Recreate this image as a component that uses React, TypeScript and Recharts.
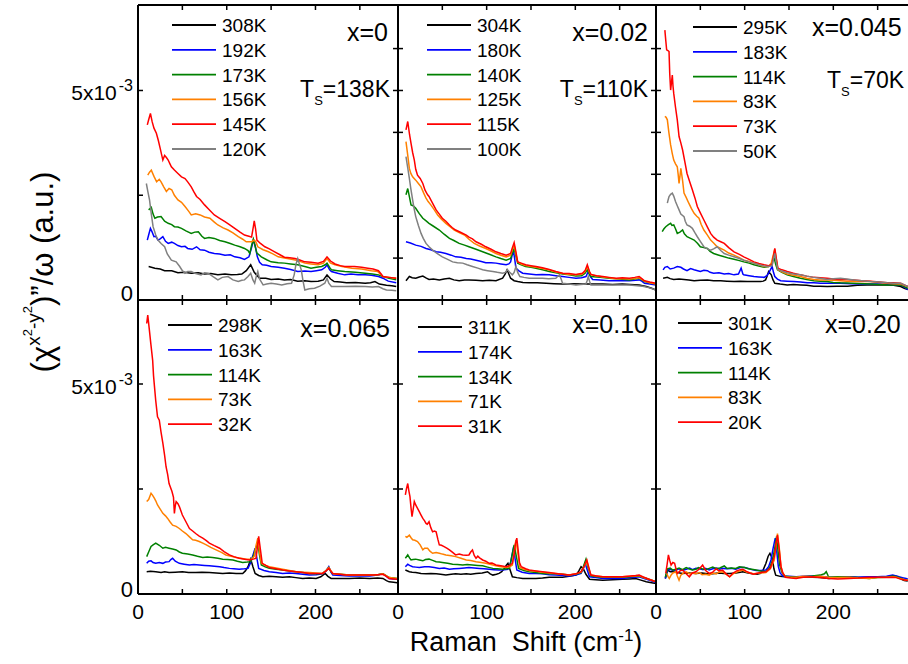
import React from 'react';
import { LineChart, Line, XAxis, YAxis } from 'recharts';

type Pt = [number, number];

// values in units of 1e-3, x in cm^-1
// x = 0
const p1_308K: Pt[] = [[12,0.80],[19,0.76],[25,0.74],[30,0.70],[38,0.70],[45,0.65],[52,0.66],[60,0.64],[68,0.65],[75,0.62],[82,0.63],[90,0.60],[98,0.62],[105,0.60],[112,0.61],[117,0.62],[122,0.70],[127,0.84],[131,0.66],[137,0.52],[144,0.52],[150,0.49],[158,0.50],[165,0.48],[172,0.49],[180,0.45],[188,0.46],[195,0.44],[203,0.45],[209,0.48],[213,0.60],[217,0.50],[221,0.44],[228,0.43],[235,0.41],[245,0.42],[256,0.40],[262,0.41],[267,0.44],[272,0.38],[280,0.35],[286,0.34],[291,0.32]];
const p1_192K: Pt[] = [[10.5,1.43],[12,1.55],[14,1.71],[16,1.62],[18,1.51],[20,1.52],[22.5,1.43],[25,1.46],[28,1.51],[31,1.40],[34,1.35],[38,1.38],[41,1.35],[45,1.30],[49,1.27],[53,1.28],[56,1.23],[61,1.21],[66,1.27],[70,1.20],[75,1.19],[80,1.14],[86,1.11],[92,1.10],[98,1.07],[104,1.08],[109,1.03],[115,1.01],[120,0.97],[125,1.03],[128,1.25],[130,1.43],[132,1.30],[134.5,1.03],[137,0.90],[140,0.84],[145,0.83],[150,0.80],[158,0.78],[165,0.76],[172,0.73],[180,0.68],[188,0.69],[195,0.68],[201,0.70],[207,0.72],[211,0.78],[213,0.84],[216,0.72],[218,0.68],[225,0.64],[233,0.60],[240,0.62],[248,0.60],[256,0.60],[263,0.59],[271,0.56],[276,0.52],[282,0.45],[291,0.41]];
const p1_173K: Pt[] = [[12,2.15],[15,2.21],[17,2.05],[19,1.95],[22,1.98],[26,1.99],[30,1.88],[34,1.83],[38,1.80],[41,1.75],[45,1.74],[49,1.71],[54,1.65],[60,1.59],[64,1.62],[68,1.63],[72,1.52],[75,1.47],[80,1.49],[86,1.47],[92,1.42],[98,1.39],[104,1.35],[109,1.31],[115,1.27],[120,1.23],[124,1.18],[126,1.11],[128,1.30],[130,1.45],[132,1.28],[134,1.12],[139,1.03],[145,0.96],[150,0.91],[158,0.89],[165,0.88],[172,0.86],[180,0.84],[188,0.80],[195,0.76],[201,0.78],[207,0.80],[211,0.84],[213,0.88],[216,0.78],[218,0.72],[225,0.70],[233,0.68],[245,0.66],[256,0.64],[264,0.62],[271,0.60],[276,0.56],[283,0.52],[291,0.48]];
const p1_156K: Pt[] = [[11,2.98],[13,3.05],[15,3.10],[18,2.95],[21,2.82],[24,2.88],[26,2.82],[29,2.70],[32,2.59],[35,2.66],[38,2.63],[41,2.50],[45,2.39],[49,2.33],[53,2.23],[57,2.12],[60,2.03],[65,2.06],[70,2.03],[75,1.98],[81,1.95],[86,1.86],[90,1.79],[96,1.72],[101.5,1.67],[107,1.60],[113,1.51],[118,1.45],[122,1.39],[128,1.39],[131,1.43],[133,1.38],[135,1.27],[141,1.20],[147,1.15],[152,1.10],[158,1.03],[165,1.00],[173,0.97],[180,0.94],[188,0.88],[195,0.86],[203,0.84],[209,0.88],[213,0.99],[217,0.88],[222,0.84],[230,0.80],[241,0.76],[252,0.74],[263,0.70],[270,0.68],[276,0.56],[283,0.54],[291,0.52]];
const p1_145K: Pt[] = [[10.5,4.18],[12,4.30],[14,4.45],[16,4.25],[18,4.10],[20.7,3.98],[23,3.80],[25,3.62],[28,3.34],[30,3.45],[32,3.40],[34,3.34],[36,3.25],[37.6,3.18],[41,3.10],[45,3.02],[49,2.94],[53,2.90],[56,2.82],[60,2.70],[63,2.58],[66,2.47],[70,2.40],[75,2.27],[80,2.16],[86,2.03],[92,1.95],[98,1.87],[103,1.80],[109,1.71],[115,1.62],[120,1.55],[125,1.52],[128,1.50],[130,1.75],[131,1.89],[132.5,1.70],[134,1.43],[138,1.35],[143,1.27],[148,1.22],[154,1.15],[160,1.08],[165,1.02],[171,1.01],[177,0.99],[183,0.95],[188,0.91],[195,0.90],[203,0.88],[209,0.92],[213,1.03],[217,0.93],[222,0.86],[228,0.82],[233,0.80],[244,0.80],[252,0.78],[259,0.76],[265,0.74],[271,0.70],[274,0.62],[276,0.56],[283,0.54],[291,0.52]];
const p1_120K: Pt[] = [[9.4,2.78],[11,2.60],[13,2.39],[15,2.05],[17,1.75],[20,1.55],[22.5,1.43],[26,1.35],[30,1.27],[33,1.10],[37.6,0.95],[43,0.91],[47,0.80],[50,0.70],[53,0.64],[56,0.68],[60,0.68],[65,0.63],[71,0.60],[75,0.65],[79,0.64],[85,0.55],[90,0.48],[95,0.54],[101.5,0.56],[107,0.48],[113,0.44],[117,0.47],[120,0.48],[124,0.56],[127,0.64],[129.5,0.48],[131.5,0.40],[133.5,0.58],[135,0.68],[137,0.50],[141,0.36],[145,0.38],[150,0.40],[156,0.38],[162,0.36],[168,0.39],[173,0.40],[176,0.60],[178,0.85],[180,0.99],[182,0.85],[184,0.72],[186,0.45],[188,0.24],[193,0.27],[199,0.28],[205,0.33],[210.5,0.40],[213,0.52],[215,0.40],[218,0.32],[225,0.32],[233,0.32],[245,0.33],[256,0.32],[264,0.31],[271,0.32],[276,0.27],[280,0.24],[286,0.23],[291,0.22]];

// x = 0.02
const p2_304K: Pt[] = [[9,0.46],[12.8,0.56],[16,0.53],[20,0.52],[24,0.55],[28,0.57],[32,0.52],[35,0.49],[40,0.50],[46.6,0.48],[52,0.50],[58,0.52],[63,0.48],[69,0.46],[75,0.48],[80,0.48],[88,0.47],[95.5,0.46],[103,0.47],[110.5,0.46],[118,0.52],[121,0.62],[123,0.72],[125,0.62],[127,0.52],[131,0.46],[135,0.44],[141,0.42],[148,0.41],[157,0.41],[167,0.40],[176,0.39],[185.6,0.38],[197,0.39],[208,0.38],[220,0.38],[231,0.38],[242,0.37],[253,0.38],[262,0.37],[272,0.36],[280,0.32],[286,0.28],[291,0.24]];
const p2_180K: Pt[] = [[9,1.39],[14,1.36],[20,1.31],[26,1.28],[31.6,1.23],[37,1.20],[43,1.15],[48,1.14],[54,1.11],[60,1.07],[65,1.03],[71,1.02],[77,0.99],[82,0.98],[88,0.95],[94,0.92],[99,0.89],[105,0.89],[110.5,0.88],[116,0.86],[122,0.84],[125,0.86],[127,0.91],[128.5,1.05],[130,1.19],[131.5,1.00],[133,0.76],[136,0.70],[140.6,0.64],[148,0.62],[155.6,0.60],[163,0.61],[170.6,0.60],[178,0.58],[185.6,0.56],[193,0.54],[200.7,0.52],[207,0.53],[212,0.56],[214.6,0.68],[217,0.56],[219.5,0.49],[228,0.48],[238,0.46],[250,0.46],[261,0.46],[268,0.47],[272,0.48],[275,0.45],[278,0.40],[284,0.38],[291,0.36]];
const p2_140K: Pt[] = [[9,2.51],[11,2.66],[13,2.45],[14.7,2.27],[17,2.25],[20,2.19],[24,2.06],[28,1.95],[31,1.90],[35,1.83],[40,1.76],[46.6,1.67],[52,1.57],[58,1.47],[63,1.42],[69,1.35],[75,1.31],[80,1.27],[88,1.21],[95.5,1.15],[103,1.09],[110.5,1.03],[116,0.99],[122,0.95],[127,0.99],[129,1.12],[131,1.23],[133,1.05],[135,0.88],[139,0.84],[144,0.80],[150,0.78],[155.6,0.76],[163,0.72],[170.6,0.68],[178,0.65],[185.6,0.62],[193,0.60],[200.7,0.57],[207,0.58],[211,0.64],[213.5,0.72],[216,0.62],[217.6,0.56],[228,0.54],[238,0.52],[250,0.50],[261,0.48],[267,0.50],[272,0.52],[275,0.48],[278,0.44],[284,0.41],[291,0.38]];
const p2_125K: Pt[] = [[9,3.78],[11,3.45],[12.8,3.14],[14.5,3.02],[16.5,2.94],[20,2.86],[23,2.78],[26,2.70],[29,2.55],[31.6,2.43],[34,2.35],[37,2.27],[41,2.15],[44.7,2.03],[49,1.93],[54,1.83],[58,1.76],[63.5,1.67],[69,1.61],[75,1.55],[80,1.45],[86,1.35],[92,1.29],[99,1.23],[105,1.17],[110.5,1.11],[116,1.07],[122,1.03],[127,1.07],[129,1.20],[131,1.31],[133,1.10],[135,0.91],[139,0.86],[144,0.82],[150,0.80],[156,0.78],[163,0.75],[170,0.72],[178,0.67],[186,0.63],[193,0.61],[201,0.60],[208,0.62],[211,0.68],[213.5,0.80],[216,0.66],[218,0.60],[225,0.57],[231,0.55],[238,0.53],[246,0.51],[253,0.51],[261,0.50],[268,0.51],[272,0.53],[275,0.49],[278,0.45],[284,0.41],[291,0.38]];
const p2_115K: Pt[] = [[9,4.06],[11,4.26],[13,3.95],[14.7,3.74],[16.5,3.52],[18.4,3.34],[20,3.12],[22,2.98],[25,2.90],[28,2.78],[30.5,2.62],[33.4,2.51],[35,2.47],[37,2.39],[40,2.27],[43,2.15],[46.6,2.05],[50,1.95],[54,1.88],[58,1.79],[61,1.73],[65,1.67],[71,1.61],[77,1.55],[80,1.50],[84,1.46],[88,1.39],[94,1.33],[99,1.27],[105,1.21],[110.5,1.15],[116,1.11],[122,1.07],[127,1.11],[129,1.25],[131,1.37],[133,1.15],[135,0.91],[139,0.88],[144,0.84],[150,0.82],[155.6,0.80],[163,0.77],[170.6,0.73],[178,0.68],[185.6,0.64],[193,0.63],[200.7,0.61],[208,0.64],[211,0.70],[213.5,0.84],[216,0.68],[217.6,0.61],[224,0.58],[231,0.56],[238,0.54],[246,0.52],[253,0.53],[261,0.52],[267,0.54],[272,0.56],[275,0.51],[278,0.46],[284,0.43],[291,0.40]];
const p2_100K: Pt[] = [[9,3.42],[11,3.15],[12.8,2.90],[14.5,2.65],[16.5,2.39],[18,2.20],[20,1.99],[23,1.78],[26,1.59],[28.5,1.47],[31.6,1.35],[35,1.27],[39,1.19],[44,1.11],[50,1.03],[56,0.97],[61.6,0.91],[67,0.89],[73,0.88],[78,0.84],[84,0.80],[90,0.76],[95.5,0.72],[101,0.70],[107,0.68],[112,0.66],[118,0.64],[121,0.66],[123.6,0.72],[126,0.66],[129,0.60],[131,0.66],[133,0.80],[135,0.66],[137.5,0.56],[142,0.54],[148,0.52],[155,0.52],[163,0.52],[170,0.51],[178,0.52],[180,0.56],[182,0.60],[184,0.50],[185.6,0.40],[193,0.38],[200.7,0.36],[206,0.37],[212,0.38],[213.5,0.47],[214.6,0.56],[216,0.45],[217.6,0.36],[228,0.36],[238,0.36],[250,0.36],[261,0.36],[270,0.34],[276,0.33],[284,0.29],[291,0.24]];

// x = 0.045
const p3_295K: Pt[] = [[8,0.52],[12.8,0.54],[16,0.51],[20,0.49],[26,0.50],[31.6,0.49],[37,0.48],[43,0.46],[50,0.47],[58,0.48],[65,0.46],[73,0.46],[80,0.45],[88,0.44],[95,0.45],[103,0.44],[110,0.44],[118,0.44],[121,0.45],[123.6,0.48],[125.5,0.58],[127,0.68],[130,0.60],[132,0.48],[134,0.40],[140,0.38],[148,0.36],[155,0.37],[163,0.36],[170,0.35],[178,0.33],[185,0.33],[193,0.32],[204,0.33],[216,0.33],[227,0.35],[238,0.36],[250,0.36],[261,0.36],[268,0.35],[276,0.32],[280,0.28],[284,0.25]];
const p3_183K: Pt[] = [[8,0.72],[10,0.78],[12.8,0.80],[16,0.74],[20,0.76],[24,0.80],[28,0.78],[31,0.74],[35,0.70],[39,0.75],[43,0.72],[47,0.70],[50,0.68],[54,0.71],[58,0.70],[61,0.66],[65,0.64],[71,0.65],[77,0.62],[82,0.63],[88,0.60],[93,0.62],[96,0.76],[98,0.62],[99,0.60],[105,0.58],[110.5,0.56],[116,0.55],[122,0.54],[125,0.58],[127,0.64],[129,0.72],[131,0.80],[132.5,0.66],[134,0.56],[137,0.50],[140.6,0.46],[148,0.45],[155.6,0.44],[163,0.43],[170.6,0.41],[178,0.41],[185.6,0.40],[197,0.40],[208,0.40],[220,0.39],[231,0.38],[242,0.38],[253,0.38],[265,0.37],[276,0.36],[280,0.31],[284,0.25]];
const p3_114K: Pt[] = [[7,1.63],[9,1.70],[11,1.75],[14,1.80],[16.5,1.83],[18,1.78],[20,1.79],[22,1.70],[24,1.59],[27,1.62],[30,1.67],[32,1.58],[35,1.51],[39,1.47],[43,1.43],[47,1.35],[50,1.27],[54,1.25],[58,1.23],[61,1.16],[65,1.11],[71,1.07],[77,1.03],[82,1.00],[88,0.97],[94,0.94],[99,0.91],[105,0.88],[110.5,0.84],[116,0.81],[122,0.78],[127,0.80],[130,0.84],[131.5,0.95],[133,1.03],[135,0.85],[137,0.72],[142,0.66],[148,0.60],[155,0.56],[163,0.52],[170,0.49],[178,0.46],[185,0.45],[193,0.44],[200,0.42],[208,0.41],[223,0.40],[242,0.38],[261,0.36],[276,0.36],[280,0.32],[284,0.28]];
const p3_83K: Pt[] = [[10,4.38],[11.4,4.36],[12.8,4.30],[14.5,4.00],[16.5,3.70],[18.3,3.50],[20,3.34],[22,3.25],[24,3.18],[25,3.00],[26,2.78],[27,2.95],[28,3.14],[30,2.85],[31.6,2.55],[34,2.45],[37,2.31],[40,2.18],[43,2.07],[46,2.00],[48.5,1.95],[51,1.80],[54,1.67],[58,1.55],[61.6,1.43],[65,1.36],[69,1.27],[73,1.23],[77,1.19],[82,1.12],[88,1.07],[94,1.01],[99,0.95],[105,0.92],[110.5,0.88],[116,0.84],[122,0.80],[127,0.80],[130,0.88],[132,1.05],[134,1.21],[135.5,1.00],[137.5,0.72],[142,0.67],[148,0.62],[155,0.59],[163,0.56],[170,0.52],[178,0.49],[185,0.48],[193,0.48],[200,0.47],[208,0.46],[215,0.45],[223,0.44],[232,0.44],[242,0.44],[252,0.42],[261,0.40],[268,0.39],[276,0.38],[280,0.35],[284,0.32]];
const p3_73K: Pt[] = [[10,6.44],[11,6.20],[12,5.97],[13.5,5.95],[14.7,5.93],[15.5,5.40],[16.5,5.01],[17.5,5.20],[18.4,5.37],[19.2,5.10],[20,4.93],[22,4.60],[24,4.30],[25,4.10],[26,3.90],[28,3.75],[30,3.58],[32.5,3.30],[35,3.02],[38,2.82],[41,2.63],[44,2.43],[46.6,2.23],[50,2.08],[54,1.91],[58,1.74],[61.6,1.59],[65,1.50],[69,1.43],[73,1.39],[77,1.35],[82,1.25],[88,1.15],[94,1.09],[99,1.03],[105,0.97],[110.5,0.91],[116,0.87],[122,0.84],[127,0.82],[131,0.84],[132.5,1.05],[134,1.23],[135.5,1.02],[137.5,0.76],[142,0.72],[148,0.68],[155,0.64],[163,0.60],[170,0.57],[178,0.54],[185,0.53],[193,0.52],[200,0.50],[208,0.49],[215,0.49],[223,0.48],[232,0.46],[242,0.45],[252,0.43],[261,0.41],[268,0.41],[276,0.40],[280,0.36],[284,0.32]];
const p3_50K: Pt[] = [[12.8,2.31],[13.8,2.40],[14.7,2.47],[16.5,2.52],[18.4,2.55],[20,2.48],[22,2.35],[24,2.25],[26,2.15],[28,2.05],[31.6,1.99],[33,1.88],[35,1.79],[38,1.76],[41,1.71],[44,1.60],[46.6,1.51],[50,1.40],[54,1.27],[58,1.22],[61.6,1.19],[65,1.22],[69,1.27],[73,1.18],[77,1.11],[82,1.07],[88,1.03],[94,0.99],[99,0.95],[105,0.91],[110.5,0.88],[116,0.84],[122,0.81],[127,0.80],[131,0.82],[132.5,0.98],[134,1.11],[135.5,0.92],[137.5,0.73],[142,0.69],[148,0.65],[155,0.62],[163,0.60],[170,0.57],[178,0.54],[185,0.52],[193,0.49],[200,0.51],[208,0.52],[215,0.50],[223,0.48],[232,0.46],[242,0.44],[252,0.43],[261,0.41],[268,0.40],[276,0.40],[280,0.36],[284,0.32]];

// x = 0.065
const p4_298K: Pt[] = [[9.8,0.53],[14,0.54],[20,0.53],[26,0.51],[30,0.53],[35,0.51],[42,0.52],[50,0.53],[57,0.51],[65,0.51],[72,0.52],[80.4,0.51],[88,0.50],[95.5,0.49],[103,0.50],[110.5,0.49],[118,0.49],[121,0.55],[124,0.65],[127,0.83],[129.5,0.65],[132,0.49],[136,0.44],[140.6,0.41],[148,0.42],[155.6,0.41],[163,0.40],[170.6,0.41],[178,0.39],[185.6,0.37],[193,0.38],[200.7,0.37],[206,0.41],[211,0.49],[214,0.42],[217.6,0.37],[228,0.37],[238,0.37],[250,0.38],[261,0.37],[270,0.38],[276,0.37],[280,0.32],[283,0.29],[288,0.28],[292,0.27]];
const p4_163K: Pt[] = [[9.8,0.73],[12,0.78],[14.7,0.79],[17,0.75],[20,0.73],[24,0.75],[28,0.73],[31,0.76],[35,0.77],[37,0.82],[39,0.85],[42,0.78],[46.6,0.73],[52,0.71],[58,0.69],[63,0.70],[69,0.69],[75,0.68],[80.4,0.67],[86,0.66],[92,0.65],[97,0.63],[103,0.61],[108,0.60],[114,0.59],[120,0.60],[124,0.61],[127,0.75],[129,0.89],[132,1.09],[134,0.85],[136,0.61],[142,0.56],[148,0.53],[155.6,0.51],[163,0.49],[170.6,0.50],[178,0.49],[185.6,0.47],[193,0.45],[200.7,0.46],[208,0.48],[212,0.55],[215,0.65],[217.5,0.52],[219.5,0.45],[228,0.44],[238,0.43],[250,0.43],[261,0.43],[270,0.45],[276,0.48],[280,0.42],[283,0.37],[288,0.36],[292,0.35]];
const p4_114K: Pt[] = [[9.8,0.89],[12,1.00],[14.7,1.13],[17,1.17],[20,1.21],[24,1.16],[28,1.09],[31,1.11],[35,1.09],[39,1.07],[43,1.05],[46.6,1.00],[50,0.97],[56,0.95],[61.6,0.93],[67,0.90],[73,0.87],[78,0.88],[84,0.87],[90,0.85],[95.5,0.83],[101,0.82],[107,0.81],[112,0.78],[118,0.75],[123,0.76],[127,0.77],[130,0.90],[132,1.05],[135,1.21],[137,0.92],[139,0.69],[144,0.64],[148,0.61],[155.6,0.59],[163,0.57],[170.6,0.55],[178,0.53],[185.6,0.51],[193,0.49],[200.7,0.48],[208,0.49],[212,0.56],[215,0.63],[217.5,0.53],[219.5,0.49],[228,0.47],[238,0.45],[250,0.45],[261,0.45],[270,0.46],[276,0.48],[280,0.43],[283,0.39],[288,0.38],[292,0.37]];
const p4_73K: Pt[] = [[9.8,2.20],[12,2.25],[14.7,2.40],[16.5,2.35],[18.4,2.28],[20,2.22],[22,2.12],[25,2.02],[28,1.92],[31,1.86],[33.4,1.80],[36,1.72],[39,1.64],[43,1.61],[46.6,1.56],[50,1.50],[54,1.44],[58,1.36],[61.6,1.29],[65,1.28],[69,1.25],[73,1.21],[77,1.17],[82,1.11],[88,1.05],[94,0.99],[99,0.93],[105,0.90],[110.5,0.87],[116,0.85],[122,0.83],[128,0.83],[131,0.90],[133,1.15],[135,1.33],[137,1.00],[139,0.73],[144,0.68],[148,0.65],[155.6,0.62],[163,0.59],[170.6,0.56],[178,0.53],[185.6,0.52],[193,0.51],[200.7,0.50],[208,0.49],[212,0.56],[215,0.63],[217.5,0.55],[219.5,0.49],[228,0.47],[238,0.45],[250,0.45],[261,0.45],[270,0.46],[276,0.48],[280,0.43],[283,0.39],[288,0.38],[292,0.37]];
const p4_32K: Pt[] = [[9.8,6.44],[11,6.64],[12.8,6.29],[14.5,5.95],[16.5,5.57],[17.5,5.20],[18.4,4.98],[20,4.60],[22,4.22],[24,4.14],[26,3.85],[28,3.59],[30,3.30],[31.6,3.03],[33.4,2.85],[35,2.63],[38.3,2.44],[40,2.30],[41,1.92],[42,2.10],[43,2.20],[45,2.15],[46.6,2.08],[48,2.00],[50,1.88],[54,1.72],[58,1.56],[61.6,1.50],[65,1.44],[69,1.38],[73,1.33],[77,1.27],[80.4,1.21],[86,1.15],[92,1.09],[97,1.01],[103,0.93],[108,0.89],[114,0.85],[120,0.83],[125.5,0.81],[130,0.83],[133,0.85],[134.5,1.10],[136,1.37],[138,1.05],[140,0.73],[144,0.68],[148,0.63],[155.6,0.60],[163,0.57],[170.6,0.55],[178,0.53],[185.6,0.51],[193,0.49],[200.7,0.49],[208,0.49],[212,0.55],[215,0.61],[217.5,0.54],[219.5,0.49],[227,0.47],[234.5,0.45],[245,0.45],[253,0.45],[265,0.45],[270,0.46],[276,0.47],[280,0.42],[283,0.37],[288,0.36],[292,0.35]];

// x = 0.10
const p5_311K: Pt[] = [[8.3,0.57],[12.8,0.53],[16,0.52],[20,0.51],[26,0.49],[31.6,0.48],[37,0.49],[43,0.48],[48,0.47],[54,0.45],[60,0.47],[65,0.48],[71,0.47],[77,0.48],[82,0.47],[88,0.49],[95,0.50],[101,0.53],[104,0.48],[107,0.45],[111,0.47],[114,0.49],[117,0.53],[120,0.61],[122,0.68],[124,0.73],[126,0.60],[129,0.41],[134,0.39],[140.6,0.37],[148,0.37],[155.6,0.37],[163,0.38],[170.6,0.40],[178,0.40],[185.6,0.40],[193,0.42],[200.7,0.45],[204,0.55],[206.5,0.65],[209,0.60],[212,0.47],[216,0.35],[223,0.34],[231,0.33],[242,0.34],[253,0.35],[261,0.36],[268,0.37],[274,0.33],[280,0.29],[286,0.27],[291,0.25]];
const p5_174K: Pt[] = [[8.3,0.65],[11,0.71],[13,0.68],[16.5,0.65],[20,0.64],[24,0.63],[30,0.65],[35,0.65],[41,0.63],[46.6,0.61],[52,0.62],[58,0.59],[63,0.60],[69,0.61],[75,0.62],[80,0.63],[86,0.62],[92,0.61],[97,0.60],[103,0.59],[108,0.58],[114,0.57],[120,0.58],[124,0.59],[127,0.75],[129,0.97],[130.5,1.13],[132,0.85],[134,0.57],[140,0.52],[148,0.49],[155.6,0.49],[163,0.48],[170.6,0.46],[178,0.45],[185.6,0.44],[193,0.43],[200.7,0.45],[206.5,0.49],[209,0.60],[211,0.73],[213,0.60],[216,0.41],[223,0.39],[231,0.37],[242,0.37],[253,0.37],[262,0.39],[268,0.40],[272,0.41],[276,0.38],[283,0.33],[291,0.27]];
const p5_134K: Pt[] = [[8.3,0.85],[11,0.93],[13,0.86],[14.7,0.81],[17,0.82],[20,0.83],[24,0.81],[28,0.79],[31,0.82],[35,0.83],[39,0.80],[43,0.77],[46.6,0.76],[50,0.75],[56,0.73],[61.6,0.71],[67,0.70],[73,0.69],[78,0.70],[84,0.69],[90,0.68],[95.5,0.67],[101,0.64],[107,0.61],[112,0.60],[118,0.59],[122,0.60],[125.5,0.61],[128,0.85],[131,1.17],[133,0.95],[136,0.61],[142,0.56],[148,0.53],[155.6,0.51],[163,0.49],[170.6,0.48],[178,0.48],[185.6,0.47],[193,0.45],[200.7,0.47],[206.5,0.51],[209,0.65],[212,0.83],[214,0.65],[217.6,0.43],[224,0.41],[231,0.40],[242,0.40],[253,0.40],[262,0.41],[268,0.42],[272,0.43],[276,0.40],[283,0.35],[291,0.29]];
const p5_71K: Pt[] = [[8.3,1.37],[10,1.35],[12.8,1.40],[14.7,1.34],[16.5,1.29],[19,1.28],[22,1.25],[25,1.17],[28,1.05],[30,1.09],[33.4,1.09],[36,1.02],[39,0.97],[43,0.99],[46.6,0.97],[50,0.95],[54,0.93],[60,0.91],[65,0.89],[71,0.85],[77,0.81],[82,0.80],[88,0.77],[94,0.75],[99,0.73],[105,0.70],[110.5,0.67],[116,0.65],[122,0.63],[126,0.65],[129,0.69],[131,1.00],[133,1.29],[135,1.00],[137.5,0.63],[142,0.59],[148,0.56],[155.6,0.54],[163,0.52],[170.6,0.50],[178,0.49],[185.6,0.47],[193,0.45],[200.7,0.48],[206.5,0.52],[210,0.65],[213,0.78],[215,0.62],[217.6,0.45],[224,0.43],[231,0.41],[242,0.41],[253,0.41],[262,0.42],[268,0.43],[272,0.44],[276,0.40],[283,0.35],[291,0.29]];
const p5_31K: Pt[] = [[8.3,2.36],[9.5,2.50],[11,2.63],[12.3,2.45],[13.5,2.32],[14.7,2.05],[15.8,1.84],[17,2.00],[18.4,2.20],[20,2.12],[21,2.08],[22.5,2.02],[24,1.96],[26,1.88],[28,1.80],[30,1.74],[31.6,1.68],[33,1.66],[35,1.72],[37,1.58],[39,1.48],[41,1.50],[43,1.48],[45,1.30],[46.6,1.17],[49,1.16],[52,1.13],[55,1.09],[58,1.05],[61.6,0.99],[65,0.93],[69,0.95],[73,0.93],[77,0.92],[80,0.93],[82,1.00],[84,1.05],[86,0.92],[88,0.85],[90,0.90],[92,0.86],[95.5,0.81],[99,0.78],[103,0.73],[106,0.74],[110.5,0.69],[116,0.67],[122,0.65],[126,0.68],[129,0.73],[131,0.95],[132.5,1.20],[134,1.33],[135.5,1.05],[137,0.75],[139,0.65],[144,0.60],[148,0.57],[155.6,0.55],[163,0.53],[170.6,0.51],[178,0.49],[185.6,0.47],[193,0.45],[200.7,0.48],[206.5,0.53],[210,0.66],[213,0.81],[215,0.65],[217.6,0.45],[224,0.43],[231,0.41],[242,0.41],[253,0.41],[262,0.43],[268,0.44],[272,0.45],[276,0.41],[283,0.35],[291,0.29]];

// x = 0.20
const p6_301K: Pt[] = [[10.5,0.37],[13,0.57],[16,0.53],[19,0.53],[24,0.51],[30,0.49],[37,0.50],[45,0.49],[52,0.50],[58,0.48],[64,0.48],[70,0.50],[77,0.49],[83,0.49],[90,0.50],[95,0.52],[98,0.53],[104,0.50],[109,0.48],[114,0.47],[118,0.49],[121,0.58],[124,0.73],[126.5,0.90],[128.5,0.97],[130,0.90],[131.5,0.81],[133,0.60],[135,0.45],[140,0.42],[150,0.40],[160,0.40],[168,0.41],[176.6,0.40],[185,0.39],[195,0.37],[205,0.39],[218,0.40],[228,0.39],[240.5,0.40],[250,0.41],[260,0.41],[267,0.41],[271,0.42],[274,0.40],[277,0.35],[280,0.32],[284,0.31]];
const p6_163K: Pt[] = [[10.5,0.37],[13,0.57],[16,0.59],[19,0.56],[22.5,0.57],[26,0.60],[30,0.56],[34,0.59],[38,0.62],[41,0.58],[45,0.61],[49,0.60],[53,0.58],[56,0.61],[60,0.57],[64,0.60],[68,0.62],[72,0.59],[75,0.61],[80,0.60],[85,0.61],[90,0.59],[95,0.63],[100,0.63],[104,0.61],[108,0.58],[113,0.56],[118,0.56],[124,0.57],[127,0.65],[129.7,0.81],[132,1.08],[134.5,1.33],[136,1.05],[138,0.65],[140,0.50],[143,0.43],[150,0.42],[158,0.41],[166,0.42],[176.6,0.43],[185,0.42],[195,0.40],[205,0.40],[218,0.41],[228,0.40],[240.5,0.41],[250,0.41],[260,0.42],[267,0.45],[271,0.43],[274,0.41],[278,0.39],[282,0.37],[284,0.36]];
const p6_114K: Pt[] = [[10.5,0.40],[13,0.60],[16,0.62],[19,0.57],[22.5,0.59],[26,0.62],[30,0.58],[34,0.63],[37,0.60],[41,0.57],[45,0.59],[48,0.63],[52,0.60],[56,0.58],[60,0.61],[64,0.64],[68,0.60],[72,0.62],[77,0.67],[80,0.61],[85,0.62],[90,0.61],[94,0.65],[100,0.63],[104,0.60],[108,0.59],[113,0.57],[118,0.55],[124,0.53],[128,0.62],[131.5,0.81],[134,1.10],[136,1.37],[137.5,1.05],[139.5,0.69],[142,0.52],[144.7,0.43],[150,0.41],[158,0.40],[166,0.41],[176.6,0.43],[185,0.45],[190,0.48],[192,0.53],[194,0.44],[195,0.40],[205,0.41],[218,0.40],[228,0.39],[240.5,0.37],[250,0.39],[260,0.40],[267,0.43],[271,0.41],[275,0.38],[282,0.33],[284,0.33]];
const p6_83K: Pt[] = [[12,0.49],[13.5,0.42],[15,0.37],[17,0.45],[19,0.50],[22.5,0.53],[24,0.43],[26,0.33],[28,0.45],[31,0.50],[34,0.53],[38,0.48],[41,0.50],[45,0.48],[49,0.51],[52,0.46],[56,0.47],[60,0.45],[64,0.50],[68,0.48],[71,0.52],[75,0.53],[79,0.47],[83,0.41],[87,0.48],[91,0.52],[95,0.55],[98,0.57],[102,0.52],[106,0.50],[110,0.48],[113,0.49],[118,0.50],[124,0.51],[129,0.60],[133.4,0.81],[135.5,1.15],[137,1.44],[139,1.10],[141,0.65],[143,0.50],[146,0.41],[152,0.40],[158,0.40],[166,0.42],[176.6,0.41],[185,0.42],[195,0.40],[205,0.39],[218,0.40],[228,0.38],[240.5,0.37],[250,0.39],[260,0.40],[267,0.41],[271,0.40],[275,0.37],[282,0.33],[284,0.33]];
const p6_20K: Pt[] = [[11,0.49],[12.5,0.70],[14,0.93],[15.5,0.80],[17,0.69],[19,0.75],[21,0.73],[22.5,0.60],[24,0.49],[27,0.55],[30,0.57],[34,0.48],[37.6,0.41],[41,0.50],[45,0.53],[49,0.60],[52.6,0.69],[56,0.56],[60,0.49],[64,0.52],[68,0.60],[71,0.55],[75,0.57],[79,0.48],[83,0.41],[87,0.50],[91,0.55],[95,0.58],[98,0.59],[102,0.54],[106,0.50],[110,0.47],[113,0.49],[118,0.51],[124,0.53],[129,0.62],[133.4,0.89],[135.5,1.20],[137,1.40],[139,1.05],[141,0.65],[143,0.50],[146,0.40],[152,0.38],[158,0.37],[166,0.40],[176.6,0.41],[185,0.39],[195,0.37],[205,0.36],[218,0.37],[228,0.38],[240.5,0.40],[250,0.40],[260,0.39],[267,0.40],[271,0.39],[275,0.36],[282,0.33],[284,0.33]];

const X_TICKS = [0, 50, 100, 150, 200, 250];
const Y_TICKS_FINE = [0, 1, 2, 3, 4, 5, 6];
const Y_TICKS_COARSE = [0, 2.5, 5];

const BLACK = '#000000';
const BLUE = '#0000ff';
const GREEN = '#008000';
const ORANGE = '#ff8000';
const RED = '#ff0000';
const GRAY = '#808080';

const FONT = '"Liberation Sans", Arial, Helvetica, sans-serif';

interface Series { name: string; color: string; pts: Pt[] }
interface Panel {
  row: number;
  col: number;
  label: string;
  ts?: string;
  series: Series[];
  legend: { lx: number; ly: number };
  labelPos: { x: number; y: number; anchor: 'start' | 'end' };
  tsPos?: { x: number; y: number; anchor: 'start' | 'end' };
}

const panels: Panel[] = [
  {
    row: 0, col: 0, label: 'x=0', ts: '138K',
    series: [
      { name: '308K', color: BLACK, pts: p1_308K },
      { name: '192K', color: BLUE, pts: p1_192K },
      { name: '173K', color: GREEN, pts: p1_173K },
      { name: '156K', color: ORANGE, pts: p1_156K },
      { name: '145K', color: RED, pts: p1_145K },
      { name: '120K', color: GRAY, pts: p1_120K },
    ],
    legend: { lx: 34, ly: 20 },
    labelPos: { x: 388, y: 41, anchor: 'end' },
    tsPos: { x: 390, y: 97, anchor: 'end' },
  },
  {
    row: 0, col: 1, label: 'x=0.02', ts: '110K',
    series: [
      { name: '304K', color: BLACK, pts: p2_304K },
      { name: '180K', color: BLUE, pts: p2_180K },
      { name: '140K', color: GREEN, pts: p2_140K },
      { name: '125K', color: ORANGE, pts: p2_125K },
      { name: '115K', color: RED, pts: p2_115K },
      { name: '100K', color: GRAY, pts: p2_100K },
    ],
    legend: { lx: 29, ly: 20 },
    labelPos: { x: 648, y: 41, anchor: 'end' },
    tsPos: { x: 648, y: 97, anchor: 'end' },
  },
  {
    row: 0, col: 2, label: 'x=0.045', ts: '70K',
    series: [
      { name: '295K', color: BLACK, pts: p3_295K },
      { name: '183K', color: BLUE, pts: p3_183K },
      { name: '114K', color: GREEN, pts: p3_114K },
      { name: '83K', color: ORANGE, pts: p3_83K },
      { name: '73K', color: RED, pts: p3_73K },
      { name: '50K', color: GRAY, pts: p3_50K },
    ],
    legend: { lx: 37, ly: 22 },
    labelPos: { x: 812, y: 36, anchor: 'start' },
    tsPos: { x: 827, y: 88, anchor: 'start' },
  },
  {
    row: 1, col: 0, label: 'x=0.065',
    series: [
      { name: '298K', color: BLACK, pts: p4_298K },
      { name: '163K', color: BLUE, pts: p4_163K },
      { name: '114K', color: GREEN, pts: p4_114K },
      { name: '73K', color: ORANGE, pts: p4_73K },
      { name: '32K', color: RED, pts: p4_32K },
    ],
    legend: { lx: 30, ly: 25 },
    labelPos: { x: 390, y: 337, anchor: 'end' },
  },
  {
    row: 1, col: 1, label: 'x=0.10',
    series: [
      { name: '311K', color: BLACK, pts: p5_311K },
      { name: '174K', color: BLUE, pts: p5_174K },
      { name: '134K', color: GREEN, pts: p5_134K },
      { name: '71K', color: ORANGE, pts: p5_71K },
      { name: '31K', color: RED, pts: p5_31K },
    ],
    legend: { lx: 20, ly: 27 },
    labelPos: { x: 648, y: 333, anchor: 'end' },
  },
  {
    row: 1, col: 2, label: 'x=0.20',
    series: [
      { name: '301K', color: BLACK, pts: p6_301K },
      { name: '163K', color: BLUE, pts: p6_163K },
      { name: '114K', color: GREEN, pts: p6_114K },
      { name: '83K', color: ORANGE, pts: p6_83K },
      { name: '20K', color: RED, pts: p6_20K },
    ],
    legend: { lx: 22, ly: 23 },
    labelPos: { x: 825, y: 333, anchor: 'start' },
  },
];

const COL_LEFT = [138, 398, 656];
const COL_W = [260, 258, 258];
const COL_XMAX = [293, 291, 291];
const ROW_TOP = [5, 300];
const ROW_H = [295, 294];
const ROW_YMAX = [7.04, 7.0];
// axes get 1px each so Recharts draws them; the chart is grown by that much
const AX = 1;

function XTick(props: any) {
  const { x, y, payload, dir, label } = props;
  const v = payload.value;
  return (
    <g>
      {v !== 0 && <line x1={x} y1={y} x2={x} y2={y + dir * 5} stroke="#000" strokeWidth={1.5} />}
      {label && v % 100 === 0 && (
        <text x={x} y={y + 25} textAnchor="middle" fontSize={21} fontFamily={FONT} fill="#000">{v}</text>
      )}
    </g>
  );
}

function YTick(props: any) {
  const { x, y, payload, dir, label, row } = props;
  const v = payload.value;
  return (
    <g>
      {v !== 0 && <line x1={x} y1={y} x2={x + dir * 5} y2={y} stroke="#000" strokeWidth={1.5} />}
      {label && v === 0 && (
        <text x={x - 5} y={y + (row === 0 ? 1 : 3)} textAnchor="end" fontSize={22} fontFamily={FONT} fill="#000">0</text>
      )}
      {label && v === 5 && (
        <text x={x - 5} y={y + 10} textAnchor="end" fontSize={21} fontFamily={FONT} fill="#000">
          5x10<tspan dx={2} dy={-9} fontSize={16}>-3</tspan>
        </text>
      )}
    </g>
  );
}

function PanelChart({ p }: { p: Panel }) {
  const w = COL_W[p.col];
  const h = ROW_H[p.row];
  const xmax = COL_XMAX[p.col];
  const ymax = ROW_YMAX[p.row];
  const leftTicks = p.row === 0 && p.col > 0 ? Y_TICKS_FINE : Y_TICKS_COARSE;
  const rightTicks = p.row === 0 ? Y_TICKS_FINE : Y_TICKS_COARSE;
  const frame = { stroke: '#000', strokeWidth: 2 };
  return (
    <div style={{ position: 'absolute', left: COL_LEFT[p.col] - AX, top: ROW_TOP[p.row] - AX }}>
      <LineChart width={w + 2 * AX} height={h + 2 * AX} margin={{ top: 0, right: 0, bottom: 0, left: 0 }}>
        <XAxis xAxisId="b" dataKey="x" type="number" domain={[0, xmax]} allowDataOverflow ticks={X_TICKS} interval={0}
          height={AX} tickSize={0} tickMargin={0} tickLine={false} axisLine={frame}
          tick={(t: any) => <XTick {...t} dir={-1} label={p.row === 1} />} />
        <XAxis xAxisId="t" orientation="top" dataKey="x" type="number" domain={[0, xmax]} allowDataOverflow ticks={X_TICKS} interval={0}
          height={AX} tickSize={0} tickMargin={0} tickLine={false} axisLine={frame}
          tick={(t: any) => <XTick {...t} dir={1} label={false} />} />
        <YAxis yAxisId="l" type="number" domain={[0, ymax]} allowDataOverflow ticks={leftTicks} interval={0}
          width={AX} tickSize={0} tickMargin={0} tickLine={false} axisLine={frame}
          tick={(t: any) => <YTick {...t} dir={1} label={p.col === 0} row={p.row} />} />
        <YAxis yAxisId="r" orientation="right" type="number" domain={[0, ymax]} allowDataOverflow ticks={rightTicks} interval={0}
          width={AX} tickSize={0} tickMargin={0} tickLine={false} axisLine={frame}
          tick={(t: any) => <YTick {...t} dir={-1} label={false} row={p.row} />} />
        {p.series.map((s) => (
          <Line key={s.name} xAxisId="b" yAxisId="l" type="linear" data={s.pts.map(([x, y]) => ({ x, y }))}
            dataKey="y" stroke={s.color} strokeWidth={1.5} dot={false} isAnimationActive={false} />
        ))}
      </LineChart>
    </div>
  );
}

function Overlay() {
  return (
    <svg width={908} height={664} style={{ position: 'absolute', left: 0, top: 0, pointerEvents: 'none' }} fontFamily={FONT}>
      {panels.map((p) => {
        const ox = COL_LEFT[p.col];
        const oy = ROW_TOP[p.row];
        return (
          <g key={p.label}>
            {p.series.map((s, i) => {
              const yy = oy + p.legend.ly + i * 24.8;
              return (
                <g key={s.name}>
                  <line x1={ox + p.legend.lx} x2={ox + p.legend.lx + 44} y1={yy} y2={yy} stroke={s.color} strokeWidth={1.8} />
                  <text x={ox + p.legend.lx + 50} y={yy + 7} fontSize={19} fill="#000">{s.name}</text>
                </g>
              );
            })}
            <text x={p.labelPos.x} y={p.labelPos.y} textAnchor={p.labelPos.anchor} fontSize={25} fill="#000">{p.label}</text>
            {p.ts && p.tsPos && (
              <text x={p.tsPos.x} y={p.tsPos.y} textAnchor={p.tsPos.anchor} fontSize={23} fill="#000">
                T<tspan dy={8} fontSize={13}>S</tspan><tspan dy={-8}>={p.ts}</tspan>
              </text>
            )}
          </g>
        );
      })}
      <text transform="translate(53,272) rotate(-90)" textAnchor="middle" fontSize={31} fill="#000">
        (χ<tspan dy={-13} fontSize={19}>x</tspan><tspan dy={-8} fontSize={13}>2</tspan><tspan dy={8} fontSize={19}>-y</tspan><tspan dy={-8} fontSize={13}>2</tspan><tspan dy={21}>)”/ω (a.u.)</tspan>
      </text>
      <text x={526} y={651} textAnchor="middle" fontSize={27} fill="#000" style={{ whiteSpace: 'pre' }}>
        Raman  Shift (cm<tspan dy={-10} fontSize={17}>-1</tspan><tspan dy={10}>)</tspan>
      </text>
    </svg>
  );
}

export default function App() {
  return (
    <div style={{ position: 'absolute', left: 0, top: 0, width: 908, height: 664, overflow: 'hidden', background: '#fff', fontFamily: FONT }}>
      <style>{'.recharts-surface{overflow:visible}.recharts-wrapper{overflow:visible}'}</style>
      {panels.map((p) => <PanelChart key={p.label} p={p} />)}
      <Overlay />
    </div>
  );
}
